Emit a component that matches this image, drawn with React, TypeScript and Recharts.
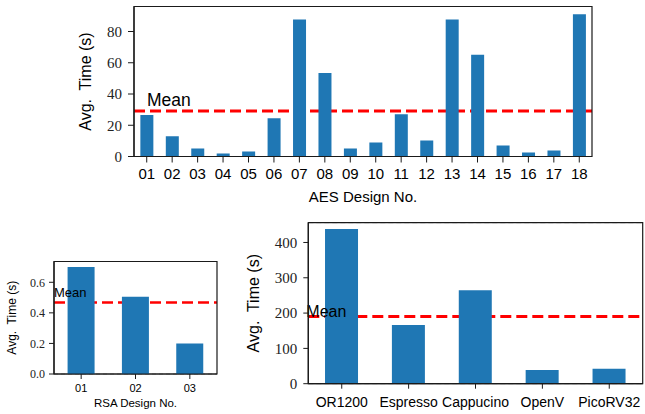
import React from 'react';
import { BarChart, Bar, XAxis, YAxis, CartesianGrid, ReferenceLine, ReferenceArea } from 'recharts';

const aesDesigns = ['01', '02', '03', '04', '05', '06', '07', '08', '09', '10', '11', '12', '13', '14', '15', '16', '17', '18'];
const aesTimes = [26.5, 12.9, 5.2, 2.0, 3.2, 24.5, 87.7, 53.5, 5.2, 9.0, 27.0, 10.3, 87.7, 65.2, 7.1, 2.6, 3.9, 91.0];
const aesYTicks = [0, 20, 40, 60, 80];

const rsaDesigns = ['01', '02', '03'];
const rsaTimes = [0.7, 0.505, 0.2];
const rsaYTicks = [0, 0.2, 0.4, 0.6];

const cpuDesigns = ['OR1200', 'Espresso', 'Cappucino', 'OpenV', 'PicoRV32'];
const cpuTimes = [438, 166, 265, 39, 42];
const cpuYTicks = [0, 100, 200, 300, 400];

const BAR = '#1f77b4';
const AXIS = '#1a1a1a';
const SANS = '"Liberation Sans", Arial, sans-serif';
const SERIF = '"Liberation Serif", "Times New Roman", serif';

type PanelProps = {
  left: number; top: number; width: number; height: number;
  margin: { top: number; right: number; bottom: number; left: number };
  categories: string[]; values: number[]; yTicks: number[]; yMax: number;
  yAxisWidth: number; xAxisHeight: number; tickSize: number;
  yTickMargin: number; xTickMargin: number; yTickFont: number; xTickFont: number;
  yTickFmt: (v: number) => string;
  yLabelOffset: number; yLabelFont: number;
  xLabel?: string; xLabelOffset?: number; xLabelFont?: number;
  meanFont: number; meanDx: number; meanDy: number; lineWidth: number; gridDash: string;
};

function Panel(p: PanelProps) {
  const data = p.categories.map((c, i) => ({ name: c, time: p.values[i] }));
  const mean = p.values.reduce((a, b) => a + b, 0) / p.values.length;
  const renderMean = (props: any) => {
    const vb = props.viewBox || {};
    return (
      <text x={(vb.x ?? 0) + p.meanDx} y={(vb.y ?? 0) + p.meanDy} fontSize={p.meanFont} fontFamily={SANS} fill="#000">
        Mean
      </text>
    );
  };
  const yTick = (props: any) => (
    <text x={props.x} y={props.y} dy="0.36em" textAnchor="end" fontSize={p.yTickFont} fontFamily={SERIF} fill="#222">
      {p.yTickFmt(props.payload.value)}
    </text>
  );
  const xTick = (props: any) => (
    <text x={props.x} y={props.y} dy="0.71em" textAnchor="middle" fontSize={p.xTickFont} fontFamily={SANS} fill="#000">
      {props.payload.value}
    </text>
  );
  const box: React.CSSProperties = { position: 'absolute', left: 0, top: 0 };
  return (
    <div style={{ position: 'absolute', left: p.left, top: p.top, width: p.width, height: p.height }}>
      {/* back layer: grid and mean line, drawn under the bars */}
      <div style={box}>
        <BarChart width={p.width} height={p.height} data={data} margin={p.margin} barCategoryGap="25%">
          <CartesianGrid xAxisId="bottom" yAxisId="left" vertical={false} stroke="#b8b8b8" strokeDasharray={p.gridDash} strokeWidth={1} />
          <XAxis xAxisId="bottom" dataKey="name" type="category" interval={0} height={p.xAxisHeight} tick={false} tickLine={false} axisLine={false} />
          <YAxis yAxisId="left" type="number" domain={[0, p.yMax]} ticks={p.yTicks} allowDataOverflow width={p.yAxisWidth} tick={false} tickLine={false} axisLine={false} />
          <ReferenceLine xAxisId="bottom" yAxisId="left" y={mean} stroke="#ff0000" strokeWidth={p.lineWidth} strokeDasharray="11 5" />
        </BarChart>
      </div>
      {/* front layer: bars, axes, frame, label */}
      <div style={box}>
        <BarChart width={p.width} height={p.height} data={data} margin={p.margin} barCategoryGap="25%">
          <XAxis
            xAxisId="bottom"
            dataKey="name"
            type="category"
            interval={0}
            height={p.xAxisHeight}
            tickSize={p.tickSize}
            tickMargin={p.xTickMargin}
            axisLine={{ stroke: AXIS, strokeWidth: 1.2 }}
            tickLine={{ stroke: AXIS, strokeWidth: 1 }}
            tick={xTick}
            label={p.xLabel ? { value: p.xLabel, position: 'insideBottom', offset: p.xLabelOffset, style: { fontSize: p.xLabelFont, fontFamily: SANS, fill: '#000' } } : undefined}
          />
          <YAxis
            yAxisId="left"
            type="number"
            domain={[0, p.yMax]}
            ticks={p.yTicks}
            allowDataOverflow
            width={p.yAxisWidth}
            tickSize={p.tickSize}
            tickMargin={p.yTickMargin}
            axisLine={{ stroke: AXIS, strokeWidth: 1.2 }}
            tickLine={{ stroke: AXIS, strokeWidth: 1 }}
            tick={yTick}
            label={{ value: 'Avg.\u00a0 Time (s)', angle: -90, position: 'insideLeft', offset: p.yLabelOffset, style: { textAnchor: 'middle', fontSize: p.yLabelFont, fontFamily: SANS, fill: '#000' } }}
          />
          <Bar xAxisId="bottom" yAxisId="left" dataKey="time" fill={BAR} isAnimationActive={false} />
          <ReferenceArea xAxisId="bottom" yAxisId="left" y1={0} y2={p.yMax} fill="none" fillOpacity={0} stroke={AXIS} strokeWidth={1.2} ifOverflow="visible" />
          <ReferenceLine xAxisId="bottom" yAxisId="left" y={mean} stroke="none" label={renderMean} />
        </BarChart>
      </div>
    </div>
  );
}

export default function App() {
  return (
    <div style={{ position: 'absolute', left: 0, top: 0, width: 645, height: 414, background: '#fff' }}>
      <Panel
        left={0} top={0} width={645} height={210}
        margin={{ top: 6.5, right: 53, bottom: 0, left: 0 }}
        categories={aesDesigns} values={aesTimes} yTicks={aesYTicks} yMax={96}
        yAxisWidth={134} xAxisHeight={53.5} tickSize={6}
        yTickMargin={6} xTickMargin={6} yTickFont={15} xTickFont={15}
        yTickFmt={(v) => String(v)}
        yLabelOffset={85} yLabelFont={16}
        xLabel="AES Design No." xLabelOffset={8} xLabelFont={15}
        meanFont={17.5} meanDx={13} meanDy={-5} lineWidth={3} gridDash="5 3"
      />
      <Panel
        left={0} top={250} width={230} height={164}
        margin={{ top: 11.5, right: 13, bottom: 0, left: 0 }}
        categories={rsaDesigns} values={rsaTimes} yTicks={rsaYTicks} yMax={0.736}
        yAxisWidth={54} xAxisHeight={40} tickSize={5}
        yTickMargin={4} xTickMargin={5} yTickFont={12} xTickFont={11}
        yTickFmt={(v) => v.toFixed(1)}
        yLabelOffset={12} yLabelFont={12}
        xLabel="RSA Design No." xLabelOffset={7} xLabelFont={11.5}
        meanFont={13} meanDx={0} meanDy={-5} lineWidth={2.5} gridDash="4 3"
      />
      <Panel
        left={240} top={215} width={405} height={199}
        margin={{ top: 7.7, right: 2.3, bottom: 0, left: 0 }}
        categories={cpuDesigns} values={cpuTimes} yTicks={cpuYTicks} yMax={456}
        yAxisWidth={68.3} xAxisHeight={30.3} tickSize={5}
        yTickMargin={6} xTickMargin={8} yTickFont={15} xTickFont={14}
        yTickFmt={(v) => String(v)}
        yLabelOffset={13} yLabelFont={16}
        meanFont={16} meanDx={-2} meanDy={0} lineWidth={3} gridDash="5 3"
      />
    </div>
  );
}
